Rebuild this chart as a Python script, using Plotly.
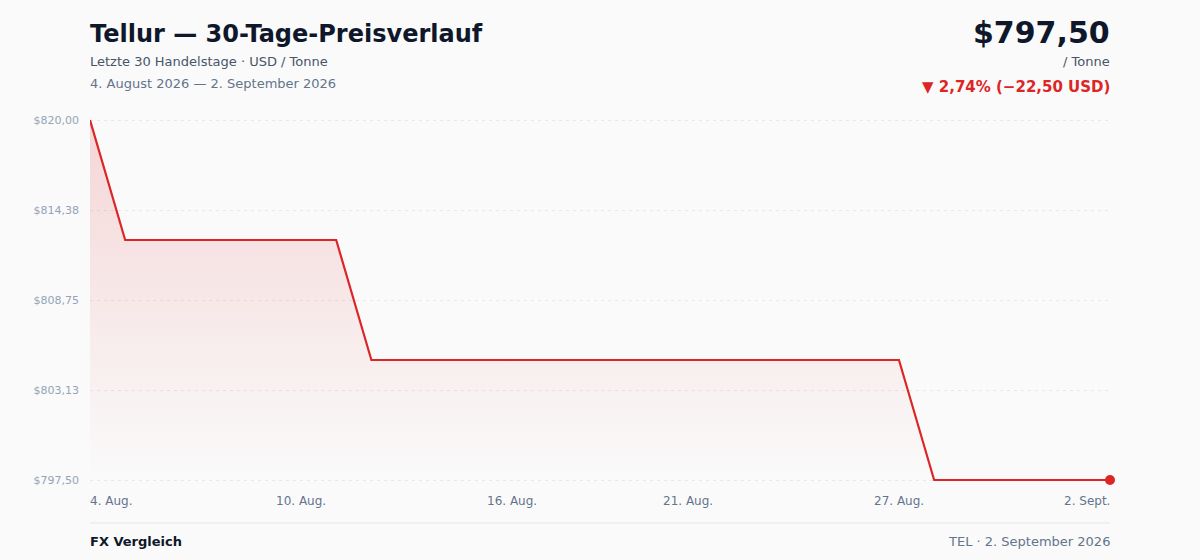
import pandas as pd
import plotly.graph_objects as go

# 30 Kalendertage, Preis in USD / Tonne
dates = pd.date_range("2026-08-04", periods=30, freq="D")
prices = [820.00,
          812.50, 812.50, 812.50, 812.50, 812.50, 812.50, 812.50,
          805.00, 805.00, 805.00, 805.00, 805.00, 805.00, 805.00, 805.00,
          805.00, 805.00, 805.00, 805.00, 805.00, 805.00, 805.00, 805.00,
          797.50, 797.50, 797.50, 797.50, 797.50, 797.50]

y_ticks = [797.50, 803.125, 808.75, 814.375, 820.00]
y_ticktext = ["$797,50", "$803,13", "$808,75", "$814,38", "$820,00"]

x_tick_dates = ["2026-08-04", "2026-08-10", "2026-08-16", "2026-08-21", "2026-08-27", "2026-09-02"]
x_tick_labels = ["4. Aug.", "10. Aug.", "16. Aug.", "21. Aug.", "27. Aug.", "2. Sept."]

W, H = 1200, 560
TOP, BOT = 116, 484  # plot area in px (range padded by 0.25 on each side)
RED = "#dc2626"
FONT = "DejaVu Sans"


def py(px):
    # pixel row -> paper y
    return (BOT - px) / (BOT - TOP)


fig = go.Figure()

# baseline for the gradient fill
fig.add_trace(go.Scatter(x=dates, y=[min(prices)] * len(dates), mode="lines",
                         line=dict(width=0), hoverinfo="skip", showlegend=False))
fig.add_trace(go.Scatter(x=dates, y=prices, mode="lines", fill="tonexty",
                         fillgradient=dict(type="vertical", start=min(prices), stop=max(prices),
                                           colorscale=[[0, "rgba(220,38,38,0.0)"],
                                                       [1, "rgba(220,38,38,0.17)"]]),
                         line=dict(color=RED, width=2.2), showlegend=False))
fig.add_trace(go.Scatter(x=[dates[-1]], y=[prices[-1]], mode="markers",
                         marker=dict(color=RED, size=10), cliponaxis=False, showlegend=False))

ann = []
for d, t in zip(x_tick_dates, x_tick_labels):
    anchor = "left" if d == x_tick_dates[0] else ("right" if d == x_tick_dates[-1] else "center")
    ann.append(dict(x=d, xref="x", y=py(501), yref="paper", text=t, showarrow=False,
                    xanchor=anchor, yanchor="middle", font=dict(size=12, color="#64748b")))

ann += [
    dict(x=0, y=py(34), text="<b>Tellur — 30-Tage-Preisverlauf</b>", xanchor="left",
         font=dict(size=24, color="#0f172a")),
    dict(x=0, y=py(61), text="Letzte 30 Handelstage · USD / Tonne", xanchor="left",
         font=dict(size=13, color="#475569")),
    dict(x=0, y=py(83), text="4. August 2026 — 2. September 2026", xanchor="left",
         font=dict(size=13, color="#64748b")),
    dict(x=1, y=py(33), text="<b>$797,50</b>", xanchor="right",
         font=dict(size=30, color="#0f172a")),
    dict(x=1, y=py(61), text="/ Tonne", xanchor="right",
         font=dict(size=13, color="#475569")),
    dict(x=1, y=py(87), text="<b>▼ 2,74% (−22,50 USD)</b>", xanchor="right",
         font=dict(size=15, color=RED)),
    dict(x=0, y=py(541), text="<b>FX Vergleich</b>", xanchor="left",
         font=dict(size=13, color="#0f172a")),
    dict(x=1, y=py(541), text="TEL · 2. September 2026", xanchor="right",
         font=dict(size=13, color="#64748b")),
]
for a in ann:
    a.setdefault("xref", "paper")
    a.setdefault("yref", "paper")
    a.setdefault("showarrow", False)
    a.setdefault("yanchor", "middle")
    # annotation box padding pushes text ~2px inwards
    if a["xanchor"] == "left":
        a["xshift"] = -2
    elif a["xanchor"] == "right":
        a["xshift"] = 2

fig.update_layout(
    width=W, height=H,
    margin=dict(l=90, r=90, t=TOP, b=H - BOT),
    paper_bgcolor="#fafafa", plot_bgcolor="#fafafa",
    font=dict(family=FONT),
    annotations=ann,
    shapes=[dict(type="line", xref="paper", yref="paper", x0=0, x1=1,
                 y0=py(523), y1=py(523), line=dict(color="#e5e7eb", width=1))],
)
fig.update_xaxes(range=[dates[0], dates[-1]], showticklabels=False, showgrid=False,
                 zeroline=False, showline=False)
fig.update_yaxes(range=[797.25, 820.25], tickvals=y_ticks, ticktext=y_ticktext,
                 tickfont=dict(size=11, color="#94a3b8"), ticklabelstandoff=10,
                 showgrid=True, gridcolor="#e8e8ea", griddash="3px,4px", gridwidth=1,
                 zeroline=False, showline=False)

# page without the default body margin so the figure sits at 0,0
fig.write_html("out.html", config={"displayModeBar": False},
               post_script="document.body.style.margin='0';document.body.style.overflow='hidden';")
